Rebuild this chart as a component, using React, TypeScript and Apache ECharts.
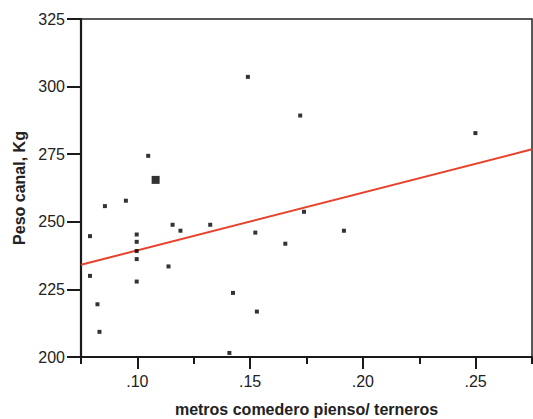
import React, { useEffect, useRef } from "react";
import * as echarts from "echarts";

// metros comedero pienso / ternero (x), peso canal kg (y)
const xValues = [0.079, 0.079, 0.0823, 0.0832, 0.0856, 0.0949, 0.0997, 0.0997, 0.0997, 0.0997, 0.0997, 0.1048, 0.1138, 0.1156, 0.1191, 0.1323, 0.1408, 0.1424, 0.149, 0.1523, 0.153, 0.1656, 0.1722, 0.1739, 0.1916, 0.2499];
const yValues = [244.7, 230.0, 219.5, 209.3, 255.8, 257.8, 245.3, 242.6, 239.2, 236.2, 227.9, 274.4, 233.5, 248.9, 246.7, 248.9, 201.5, 223.7, 303.6, 246.0, 216.8, 241.9, 289.3, 253.7, 246.7, 282.8];
// larger marker (repeated observations)
const bigX = [0.1081];
const bigY = [265.5];
// fitted regression line end points
const fitX = [0.075, 0.275];
const fitY = [234.1, 276.8];
const yTicks = [200, 225, 250, 275, 300, 325];
const xLabelTicks = [0.1, 0.15, 0.2, 0.25];

const FONT = "Liberation Sans, Arial, sans-serif";

export default function App() {
  const ref = useRef<HTMLDivElement>(null);
  useEffect(() => {
    const chart = echarts.init(ref.current!, null, { renderer: "svg" });
    const fmtX = (v: number) => {
      const hit = xLabelTicks.find((t) => Math.abs(t - v) < 1e-6);
      if (hit === undefined) return "";
      return "." + Math.round(hit * 100).toString().padStart(2, "0");
    };
    chart.setOption({
      animation: false,
      backgroundColor: "#ffffff",
      grid: {
        left: 81,
        right: 1,
        top: 19,
        bottom: 62,
        containLabel: false,
        outerBoundsMode: "none",
        show: true,
        borderColor: "#222",
        borderWidth: 1.5,
        backgroundColor: "transparent",
      },
      xAxis: [
        {
          type: "value",
          min: 0.075,
          max: 0.275,
          splitNumber: 4,
          position: "bottom",
          name: "metros comedero pienso/ terneros",
          nameLocation: "middle",
          nameGap: 44,
          nameTextStyle: { fontFamily: FONT, fontSize: 16, fontWeight: "bold", color: "#222" },
          axisLine: { show: true, onZero: false, lineStyle: { color: "#1a1a1a", width: 2.2 } },
          axisTick: { show: true, inside: false, length: 12, lineStyle: { color: "#1a1a1a", width: 2 } },
          axisLabel: {
            fontFamily: FONT,
            fontSize: 16,
            color: "#222",
            margin: 16,
            showMinLabel: false,
            showMaxLabel: false,
            formatter: fmtX,
          },
          splitLine: { show: false },
        },
        {
          type: "value",
          min: 0.075,
          max: 0.275,
          interval: 0.05,
          position: "bottom",
          axisLine: { show: false, onZero: false },
          axisTick: { show: true, inside: false, length: 7, lineStyle: { color: "#1a1a1a", width: 2 } },
          axisLabel: { show: false },
          splitLine: { show: false },
        },
      ],
      yAxis: {
        type: "value",
        min: yTicks[0],
        max: yTicks[yTicks.length - 1],
        interval: 25,
        name: "Peso canal, Kg",
        nameLocation: "middle",
        nameGap: 54,
        nameRotate: 90,
        nameTextStyle: { fontFamily: FONT, fontSize: 16, fontWeight: "bold", color: "#222" },
        axisLine: { show: true, onZero: false, lineStyle: { color: "#1a1a1a", width: 2.2 } },
        axisTick: { show: true, inside: false, length: 14, lineStyle: { color: "#1a1a1a", width: 2 } },
        axisLabel: { fontFamily: FONT, fontSize: 16, color: "#222", margin: 16 },
        splitLine: { show: false },
      },
      series: [
        {
          type: "line",
          data: fitX.map((x, i) => [x, fitY[i]]),
          symbol: "none",
          lineStyle: { color: "#e8412c", width: 2 },
          z: 1,
        },
        {
          type: "scatter",
          data: xValues.map((x, i) => [x, yValues[i]]),
          symbol: "rect",
          symbolSize: 4,
          itemStyle: { color: "#000" },
          z: 3,
        },
        {
          type: "scatter",
          data: bigX.map((x, i) => [x, bigY[i]]),
          symbol: "rect",
          symbolSize: 8,
          itemStyle: { color: "#000" },
          z: 3,
        },
      ],
    });
    return () => chart.dispose();
  }, []);
  return (
    <div
      ref={ref}
      style={{ position: "absolute", left: 0, top: 0, width: 533, height: 419 }}
    />
  );
}
